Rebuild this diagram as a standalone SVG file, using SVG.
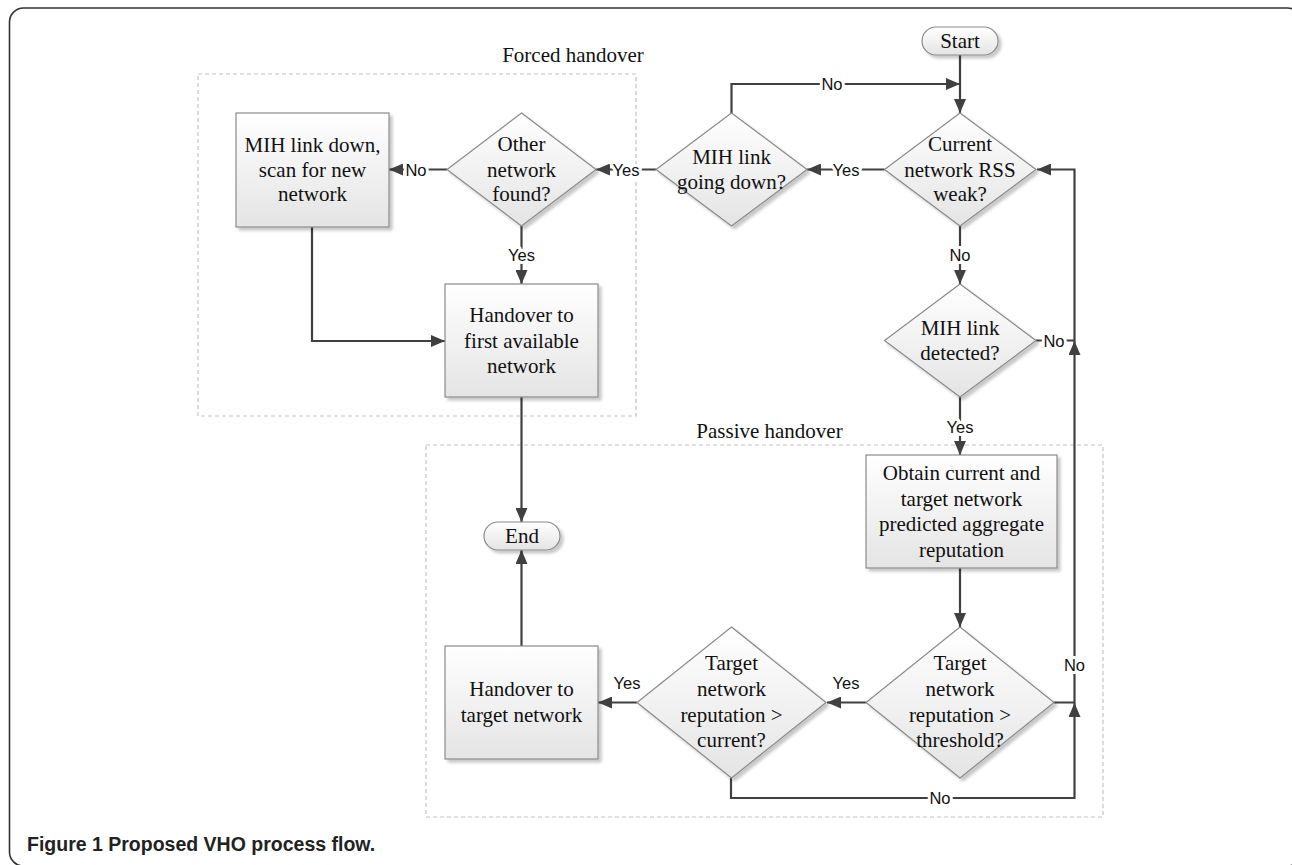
<svg xmlns="http://www.w3.org/2000/svg" width="1292" height="865" viewBox="0 0 1292 865">
<defs>
<linearGradient id="g" x1="0" y1="0" x2="0" y2="1">
<stop offset="0" stop-color="#ffffff"/>
<stop offset="1" stop-color="#e4e4e4"/>
</linearGradient>
<filter id="sh" x="-10%" y="-10%" width="130%" height="130%">
<feDropShadow dx="3" dy="3" stdDeviation="1.5" flood-color="#000" flood-opacity="0.22"/>
</filter>
<marker id="ah" markerUnits="userSpaceOnUse" markerWidth="14" markerHeight="12" refX="14" refY="6" orient="auto">
<path d="M0,0 L14,6 L0,12 z" fill="#404040"/>
</marker>
<style>
.n{fill:url(#g);stroke:#8a8a8a;stroke-width:1.2;filter:url(#sh)}
.t{font-family:"Liberation Serif","Times New Roman",serif;font-size:21px;fill:#111;text-anchor:middle}
.c{fill:none;stroke:#404040;stroke-width:2.2;marker-end:url(#ah)}
.cl{fill:none;stroke:#404040;stroke-width:2.2}
.l{font-family:"Liberation Sans",Arial,sans-serif;font-size:16.5px;fill:#111;text-anchor:middle;stroke:#fff;stroke-width:6;paint-order:stroke;stroke-linejoin:round}
.grp{fill:none;stroke:#c4c4c4;stroke-width:1.2;stroke-dasharray:4 3}
</style>
</defs>
<rect width="1292" height="865" fill="#fff"/>
<rect x="9.5" y="8" width="1292" height="858" rx="14" fill="none" stroke="#333" stroke-width="1.6"/>
<text x="27" y="851" font-family="'Liberation Sans',Arial,sans-serif" font-weight="bold" font-size="19.5" fill="#222">Figure 1 Proposed VHO process flow.</text>

<g id="forced-group">
<rect class="grp" x="198" y="74" width="438" height="342"/>
<text class="t" x="573" y="62">Forced handover</text>
</g>
<g id="passive-group">
<rect class="grp" x="426" y="445" width="677" height="372"/>
<text class="t" x="769.5" y="438">Passive handover</text>
</g>

<g id="connectors">
<path class="c" d="M960,55 V113"/>
<path class="c" d="M731.5,113 V84 H960"/>
<path class="c" d="M884.5,169.5 H807"/>
<path class="c" d="M656,169.5 H596"/>
<path class="c" d="M447,169.5 H389"/>
<path class="c" d="M521.5,226 V284"/>
<path class="c" d="M312,227 V341 H445"/>
<path class="c" d="M960,226 V284"/>
<path class="c" d="M960,397 V455"/>
<path class="c" d="M1036,340.5 H1074.5 V169.5 H1037"/>
<path class="c" d="M1054,702.5 H1074.5 V341"/>
<path class="c" d="M731,778 V798 H1074.5 V703"/>
<path class="c" d="M960,568 V627"/>
<path class="c" d="M866,702.5 H827"/>
<path class="c" d="M637,702.5 H598"/>
<path class="c" d="M521.5,397 V522"/>
<path class="c" d="M521.5,646 V550"/>
<text class="l" x="832" y="90">No</text>
<text class="l" x="846" y="175.5">Yes</text>
<text class="l" x="626" y="175.5">Yes</text>
<text class="l" x="416" y="175.5">No</text>
<text class="l" x="521.5" y="261">Yes</text>
<text class="l" x="960" y="261">No</text>
<text class="l" x="960" y="433">Yes</text>
<text class="l" x="1054" y="347">No</text>
<text class="l" x="1074.5" y="671">No</text>
<text class="l" x="940" y="804">No</text>
<text class="l" x="846" y="689">Yes</text>
<text class="l" x="627" y="689">Yes</text>
</g>

<g id="start">
<rect class="n" x="922" y="27" width="76" height="28" rx="14"/>
<text class="t" x="960" y="48">Start</text>
</g>
<g id="current-rss">
<polygon class="n" points="960,113 1036,169.5 960,226 884.5,169.5"/>
<text class="t" x="960" y="151">Current</text>
<text class="t" x="960" y="177">network RSS</text>
<text class="t" x="960" y="201">weak?</text>
</g>
<g id="mih-going-down">
<polygon class="n" points="731.5,113 807,169.5 731.5,226 656,169.5"/>
<text class="t" x="731.5" y="164">MIH link</text>
<text class="t" x="731.5" y="189">going down?</text>
</g>
<g id="other-network">
<polygon class="n" points="521.5,113 596,169.5 521.5,226 447,169.5"/>
<text class="t" x="521.5" y="151">Other</text>
<text class="t" x="521.5" y="177">network</text>
<text class="t" x="521.5" y="201">found?</text>
</g>
<g id="mih-link-down">
<rect class="n" x="236" y="113" width="153" height="114"/>
<text class="t" x="312.5" y="152">MIH link down,</text>
<text class="t" x="312.5" y="177">scan for new</text>
<text class="t" x="312.5" y="201">network</text>
</g>
<g id="handover-first">
<rect class="n" x="445" y="284" width="153" height="113"/>
<text class="t" x="521.5" y="322">Handover to</text>
<text class="t" x="521.5" y="348">first available</text>
<text class="t" x="521.5" y="373">network</text>
</g>
<g id="mih-detected">
<polygon class="n" points="960,284 1036,340.5 960,397 884.5,340.5"/>
<text class="t" x="960" y="335">MIH link</text>
<text class="t" x="960" y="360">detected?</text>
</g>
<g id="obtain">
<rect class="n" x="866" y="455" width="191" height="113"/>
<text class="t" x="961.5" y="480">Obtain current and</text>
<text class="t" x="961.5" y="506">target network</text>
<text class="t" x="961.5" y="531">predicted aggregate</text>
<text class="t" x="961.5" y="557">reputation</text>
</g>
<g id="threshold">
<polygon class="n" points="960,627 1054,702.5 960,778 866,702.5"/>
<text class="t" x="960" y="670">Target</text>
<text class="t" x="960" y="696">network</text>
<text class="t" x="960" y="722">reputation &gt;</text>
<text class="t" x="960" y="747">threshold?</text>
</g>
<g id="vs-current">
<polygon class="n" points="731.5,627 826,702.5 731.5,778 637,702.5"/>
<text class="t" x="731.5" y="670">Target</text>
<text class="t" x="731.5" y="696">network</text>
<text class="t" x="731.5" y="722">reputation &gt;</text>
<text class="t" x="731.5" y="747">current?</text>
</g>
<g id="handover-target">
<rect class="n" x="445" y="646" width="153" height="113"/>
<text class="t" x="521.5" y="696">Handover to</text>
<text class="t" x="521.5" y="722">target network</text>
</g>
<g id="end">
<rect class="n" x="484" y="522" width="76" height="28" rx="14"/>
<text class="t" x="522" y="543">End</text>
</g>
</svg>
